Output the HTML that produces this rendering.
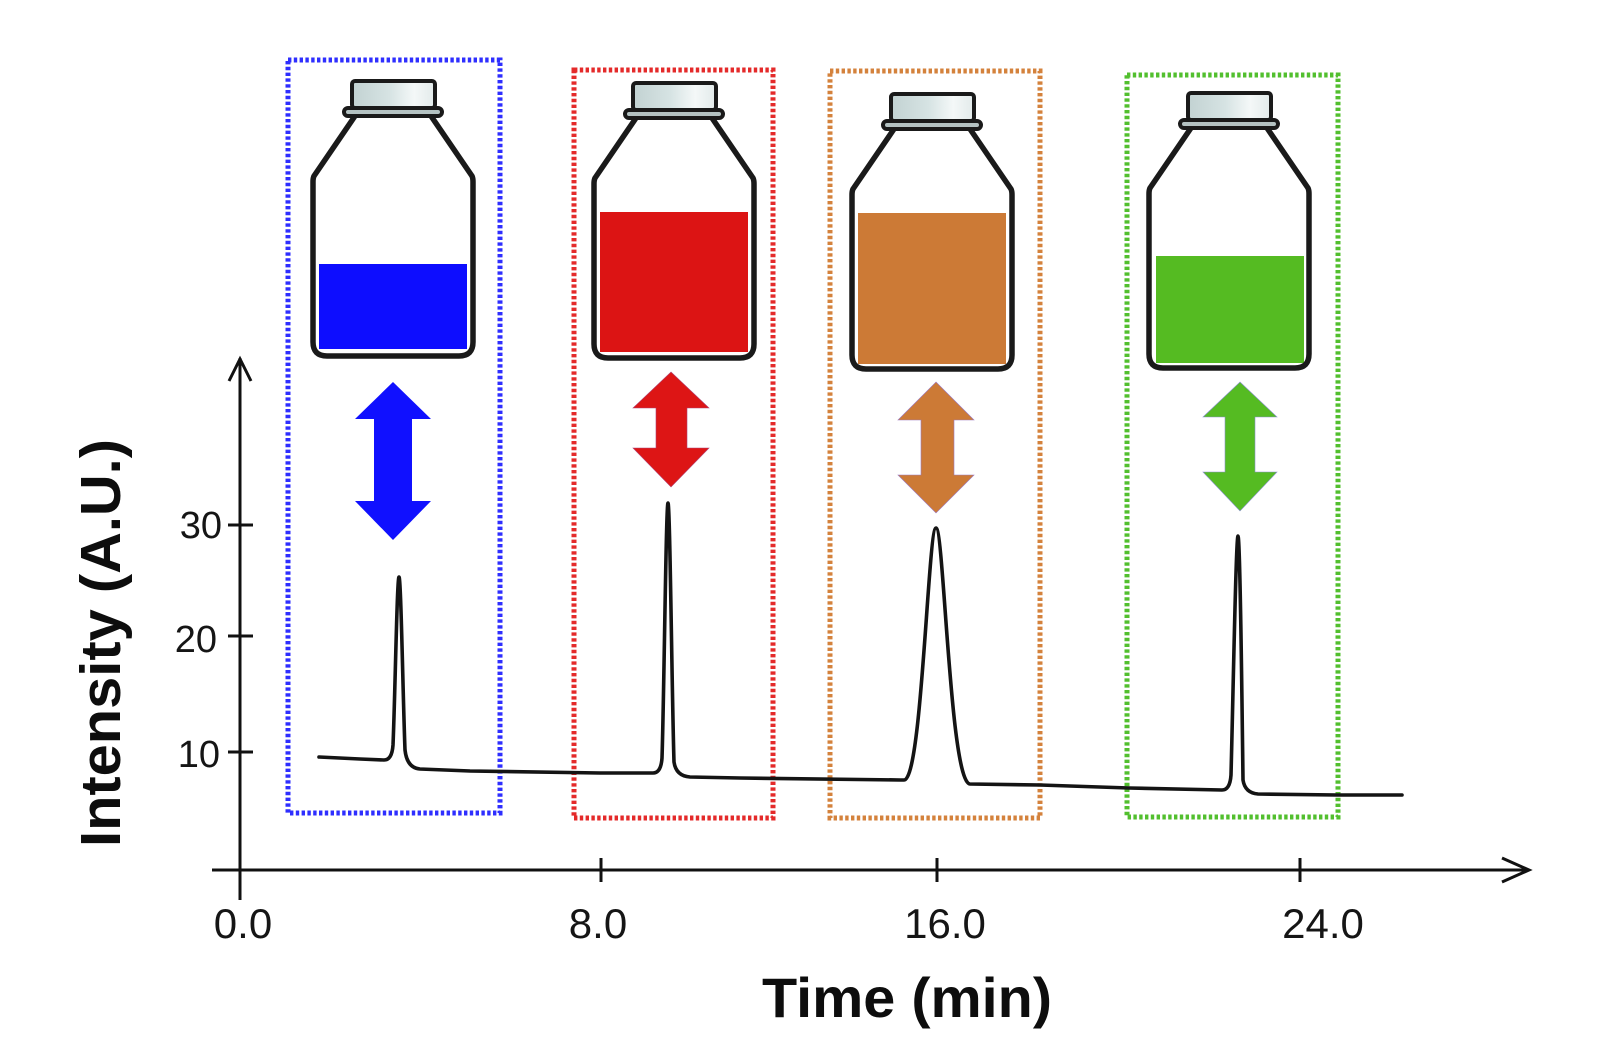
<!DOCTYPE html>
<html>
<head>
<meta charset="utf-8">
<style>
  html,body{margin:0;padding:0;background:#ffffff;}
  svg{display:block;}
  text{font-family:"Liberation Sans",sans-serif;fill:#151515;}
</style>
</head>
<body>
<svg width="1600" height="1060" viewBox="0 0 1600 1060" xmlns="http://www.w3.org/2000/svg">
  <defs>
    <linearGradient id="capg" x1="0" x2="1" y1="0" y2="0">
      <stop offset="0" stop-color="#c2d2d2"/>
      <stop offset="0.45" stop-color="#d6e3e3"/>
      <stop offset="0.75" stop-color="#f4f8f8"/>
      <stop offset="1" stop-color="#e2eaea"/>
    </linearGradient>
    <g id="bottleOutline">
      <path d="M42,36 L1,96 Q0,98 0,102 L0,262 Q0,276 14,276 L146,276 Q160,276 160,262 L160,102 Q160,98 159,96 L118,36" fill="none" stroke="#1a1a1a" stroke-width="5.5" stroke-linejoin="round"/>
      <rect x="31" y="28" width="98" height="8" rx="4" fill="#b4c2c2" stroke="#1a1a1a" stroke-width="4"/>
      <rect x="39" y="1" width="83" height="27" rx="3" fill="url(#capg)" stroke="#1a1a1a" stroke-width="4"/>
    </g>
  </defs>

  <!-- dotted boxes -->
  <rect x="288" y="60" width="212" height="753" fill="none" stroke="#2e2eff" stroke-width="5" stroke-dasharray="3.4 2.4"/>
  <rect x="574" y="70" width="199" height="748" fill="none" stroke="#e42a2a" stroke-width="5" stroke-dasharray="3.4 2.4"/>
  <rect x="830" y="71" width="210" height="747" fill="none" stroke="#d4823c" stroke-width="5" stroke-dasharray="3.4 2.4"/>
  <rect x="1127" y="75" width="211" height="742" fill="none" stroke="#52bf2e" stroke-width="5" stroke-dasharray="3.4 2.4"/>

  <!-- bottles -->
  <g transform="translate(313,80)">
    <rect x="6" y="184" width="148" height="85" fill="#0d0dff"/>
    <use href="#bottleOutline"/>
  </g>
  <g transform="translate(594,82)">
    <rect x="6" y="130" width="148" height="140" fill="#dc1414"/>
    <use href="#bottleOutline"/>
  </g>
  <g transform="translate(852,93)">
    <rect x="6" y="120" width="148" height="151" fill="#cc7a36"/>
    <use href="#bottleOutline"/>
  </g>
  <g transform="translate(1149,92)">
    <rect x="7" y="164" width="148" height="107" fill="#55bb22"/>
    <use href="#bottleOutline"/>
  </g>

  <!-- double arrows -->
  <polygon points="393,382 431,419 412,419 412,501 431,501 393,540 355,501 374,501 374,419 355,419" fill="#1010ff"/>
  <polygon points="671,372 709,408 687,408 687,448 709,448 671,487 633,448 656,448 656,408 633,408" fill="#dd1515" stroke="#b04070" stroke-width="0.6"/>
  <polygon points="936,382 974,420 954,420 954,475 974,475 936,513 898,475 921,475 921,420 898,420" fill="#cc7a36" stroke="#9a78c0" stroke-width="0.6"/>
  <polygon points="1240,382 1277,417 1255,417 1255,472 1277,472 1240,511 1203,472 1225,472 1225,417 1203,417" fill="#55bb22" stroke="#8a90d0" stroke-width="0.6"/>

  <!-- axes -->
  <g stroke="#111" stroke-width="3" fill="none" stroke-linecap="butt">
    <line x1="240" y1="358" x2="240" y2="900"/>
    <polyline points="229,381 240,359 251,381" stroke-linejoin="miter"/>
    <line x1="212" y1="870" x2="1529" y2="870"/>
    <polyline points="1502,858 1529,870 1502,882"/>
    <line x1="601" y1="858" x2="601" y2="882"/>
    <line x1="937" y1="858" x2="937" y2="882"/>
    <line x1="1300" y1="858" x2="1300" y2="882"/>
    <line x1="228" y1="525" x2="253" y2="525"/>
    <line x1="228" y1="636" x2="253" y2="636"/>
    <line x1="228" y1="752" x2="253" y2="752"/>
  </g>

  <!-- chromatogram trace -->
  <path d="M319,757 L360,759 L384,760
           Q392,760 393,745
           C395,700 397,577 399,577
           C401,577 403,700 405,750
           Q407,768 420,769
           L470,771 L600,773 L653,773
           Q661,773 662,758
           C664,700 666,503 668,503
           C670,503 672,700 674,762
           Q676,776 690,777
           L740,778 L900,780 L904,780
           C922,781 928,528 936,528
           C944,528 950,783 970,784
           L1040,785 L1129,788 L1222,790
           Q1230,790 1231,775
           C1233,700 1236,536 1238,536
           C1240,536 1242,700 1243,780
           Q1245,793 1258,794
           L1337,795 L1402,795"
        fill="none" stroke="#141414" stroke-width="3.6" stroke-linejoin="round" stroke-linecap="round"/>

  <!-- tick labels -->
  <g font-size="38">
    <text x="222" y="538" text-anchor="end">30</text>
    <text x="217" y="652" text-anchor="end">20</text>
    <text x="220" y="767" text-anchor="end">10</text>
  </g>
  <g font-size="42" text-anchor="middle">
    <text x="243" y="938">0.0</text>
    <text x="598" y="938">8.0</text>
    <text x="945" y="938">16.0</text>
    <text x="1323" y="938">24.0</text>
  </g>

  <!-- axis titles -->
  <text x="762" y="1017" font-size="56" font-weight="bold" textLength="290" lengthAdjust="spacingAndGlyphs" style="fill:#0d0d0d">Time (min)</text>
  <text transform="translate(120,847) rotate(-90)" font-size="57" font-weight="bold" textLength="408" lengthAdjust="spacingAndGlyphs" style="fill:#0d0d0d">Intensity (A.U.)</text>
</svg>
</body>
</html>
